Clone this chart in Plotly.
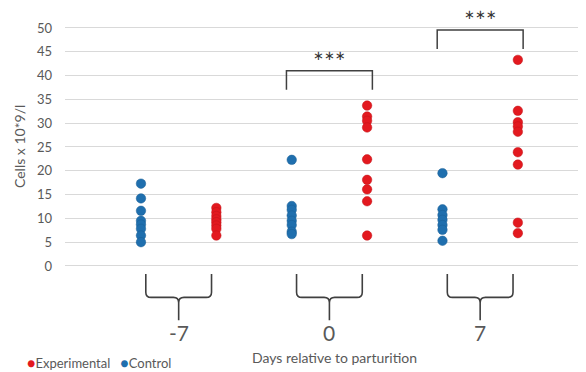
import plotly.graph_objects as go

# ---- data ----
groups = ["-7", "0", "7"]
control = [
    [17.3, 14.2, 11.6, 9.5, 8.7, 7.8, 6.4, 5.0],
    [22.3, 12.6, 11.8, 10.6, 9.5, 8.6, 7.2, 6.7],
    [19.5, 11.9, 10.7, 9.7, 8.6, 7.6, 5.3],
]
experimental = [
    [12.2, 11.3, 10.5, 9.8, 9.2, 8.5, 7.8, 6.4],
    [33.7, 31.4, 30.5, 29.1, 22.4, 18.1, 16.1, 13.6, 6.4],
    [43.3, 32.6, 30.2, 29.3, 28.2, 23.9, 21.3, 9.1, 6.9],
]
y_ticks = [0, 5, 10, 15, 20, 25, 30, 35, 40, 45, 50]
sig_groups = [1, 2]          # groups marked ***
sig_heights = [41.0, 49.6]   # bracket top level

OFF = 0.25
BLUE = "#1f6fae"
RED = "#e3191f"
GRAY = "#595959"
FONT = "Lato"

fig = go.Figure()

cx, cy, ex, ey = [], [], [], []
for g, vals in enumerate(control):
    cx += [g - OFF] * len(vals)
    cy += vals
for g, vals in enumerate(experimental):
    ex += [g + OFF] * len(vals)
    ey += vals

fig.add_trace(go.Scatter(x=cx, y=cy, mode="markers", name="Control",
                         marker=dict(size=9.5, color=BLUE, line=dict(width=0.5, color="#1a5e95")),
                         showlegend=False))
fig.add_trace(go.Scatter(x=ex, y=ey, mode="markers", name="Experimental",
                         marker=dict(size=9.5, color=RED, line=dict(width=0.5, color="#c0141a")),
                         showlegend=False))

shapes = []
annotations = []

# significance brackets
for g, h in zip(sig_groups, sig_heights):
    l, r = g - OFF - 0.035, g + OFF + 0.035
    shapes.append(dict(type="path", xref="x", yref="y",
                       path=f"M {l},{h-4.0} L {l},{h} L {r},{h} L {r},{h-4.0}",
                       line=dict(color="#404040", width=1.5)))
    annotations.append(dict(x=g, y=h + 3.3, xref="x", yref="y", text="∗∗∗",
                            showarrow=False, yanchor="middle",
                            font=dict(family="DejaVu Sans", size=13, color="#333333")))

# curly braces under each group
for g in range(len(groups)):
    L, R, C = g - 0.218, g + 0.218, g
    top, hy, tip = -1.7, -6.6, -11.4
    rx, ry = 0.035, 1.1
    path = (f"M {L},{top} L {L},{hy+ry} Q {L},{hy} {L+rx},{hy} L {C-rx},{hy} "
            f"Q {C},{hy} {C},{hy-ry} L {C},{tip} "
            f"M {C},{hy-ry} Q {C},{hy} {C+rx},{hy} L {R-rx},{hy} "
            f"Q {R},{hy} {R},{hy+ry} L {R},{top}")
    shapes.append(dict(type="path", xref="x", yref="y", path=path,
                       line=dict(color="#404040", width=1.6)))
    annotations.append(dict(x=g, y=-14.0, xref="x", yref="y", text=groups[g],
                            showarrow=False, font=dict(family=FONT, size=21, color=GRAY),
                            yanchor="middle", xanchor="center"))

# axis titles
annotations.append(dict(x=-45 / 513, y=25, xref="paper", yref="y", text="Cells x 10*9/l",
                        textangle=-90, showarrow=False, xanchor="center", yanchor="middle",
                        font=dict(family=FONT, size=14, color=GRAY)))
annotations.append(dict(x=(334 - 65) / 513, y=(337 - 357) / 333, xref="paper", yref="paper",
                        text="Days relative to parturition", showarrow=False,
                        xanchor="center", yanchor="middle",
                        font=dict(family=FONT, size=14, color=GRAY)))
# legend
annotations.append(dict(x=(25 - 65) / 513, y=(337 - 362) / 333, xref="paper", yref="paper",
                        xanchor="left", yanchor="middle",
                        text=(f"<span style='color:{RED};font-size:14px'>●</span>Experimental&nbsp;&nbsp;&nbsp;"
                              f"<span style='color:{BLUE};font-size:14px'>●</span>Control"),
                        showarrow=False, font=dict(family=FONT, size=13, color=GRAY)))

fig.update_layout(
    width=586, height=372,
    margin=dict(l=65, r=8, t=4, b=35),
    paper_bgcolor="white", plot_bgcolor="white",
    shapes=shapes, annotations=annotations,
    xaxis=dict(range=[-0.754, 2.649], showgrid=False, zeroline=False,
               showticklabels=False, showline=False),
    yaxis=dict(range=[-14.92, 55.04], tickvals=y_ticks, ticktext=[str(v) for v in y_ticks],
               showgrid=True, gridcolor="#d9d9d9", gridwidth=1, zeroline=False,
               showline=False, ticklabelstandoff=12,
               tickfont=dict(family=FONT, size=13, color=GRAY)),
)

fig.write_html("out.html")
